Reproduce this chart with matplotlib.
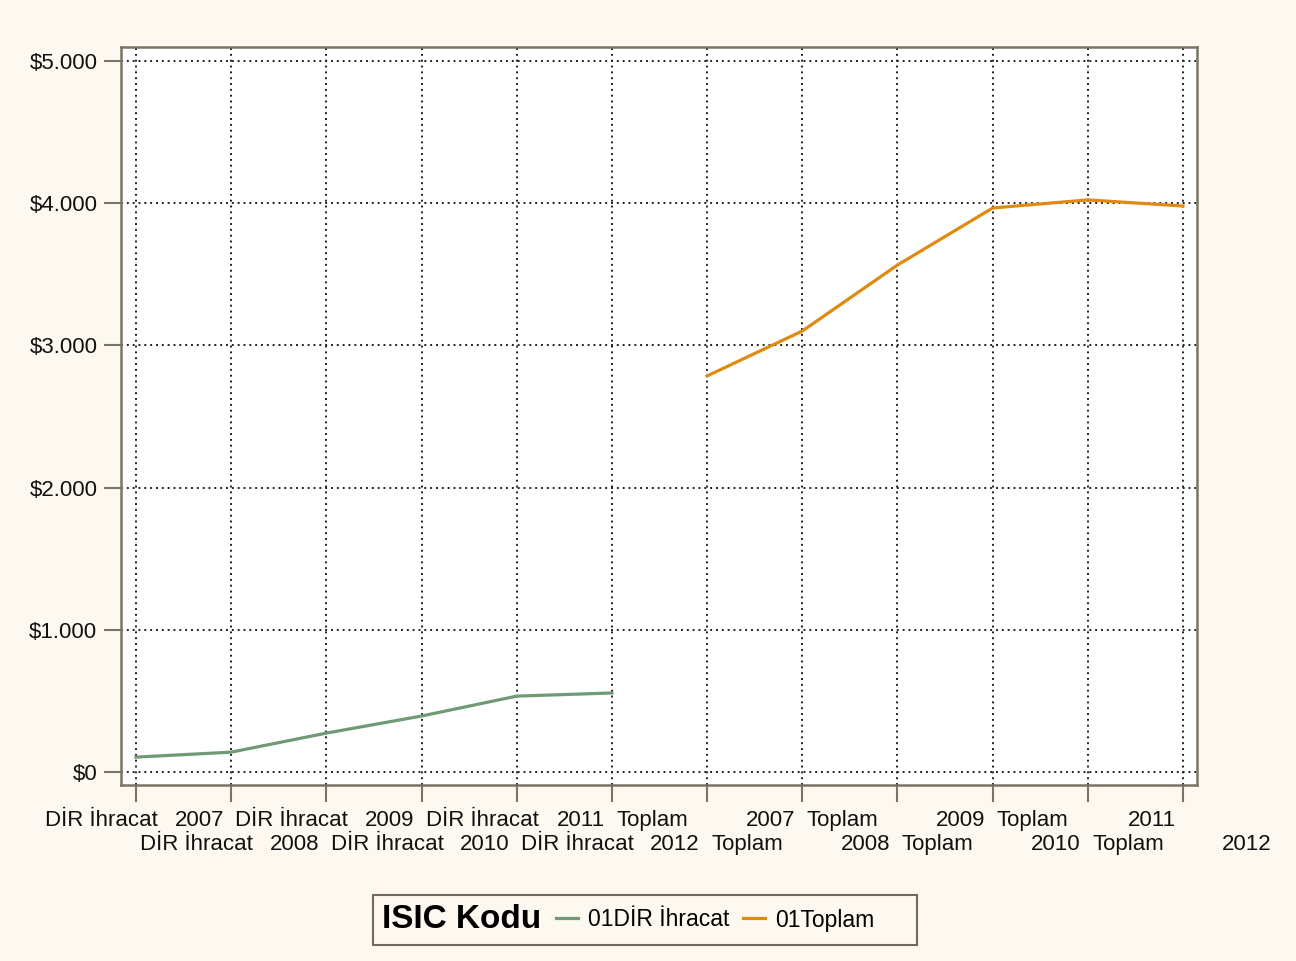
import matplotlib
matplotlib.use("Agg")
import matplotlib.pyplot as plt
from matplotlib.lines import Line2D
from matplotlib.offsetbox import HPacker, DrawingArea
from matplotlib.ticker import FuncFormatter

# ---- data ----
years = [2007, 2008, 2009, 2010, 2011, 2012]
series_names = ["DİR İhracat", "Toplam"]
legend_labels = ["01DİR İhracat", "01Toplam"]
dir_ihracat = [105, 140, 274, 394, 534, 556]
toplam = [2785, 3101, 3565, 3966, 4023, 3980]
y_ticks = [0, 1000, 2000, 3000, 4000, 5000]
colors = ["#6f9a74", "#e08a12"]

plt.rcParams['font.family'] = ['Liberation Sans', 'DejaVu Sans']

bg = "#fdf9f1"
spine_c = "#7a7464"
fig = plt.figure(figsize=(12.96, 9.61), dpi=100, facecolor=bg)
ax = fig.add_axes([121/1296, 1-785/961, (1197-121)/1296, (785-47)/961])
ax.set_facecolor("white")

categories = [(n, y) for n in series_names for y in years]
x_all = list(range(len(categories)))
n = len(years)
ax.plot(x_all[:n], dir_ihracat, color=colors[0], lw=2.3, solid_joinstyle='round', zorder=3)
ax.plot(x_all[n:], toplam, color=colors[1], lw=2.3, solid_joinstyle='round', zorder=3)

ax.set_xlim(-0.158, len(categories) - 1 + 0.147)
ax.set_ylim(-91, 5098)
ax.set_xticks(x_all)
ax.set_xticklabels([""] * len(x_all))
ax.set_yticks(y_ticks)
ax.yaxis.set_major_formatter(FuncFormatter(lambda v, p: "$" + f"{v:,.0f}".replace(",", ".")))

ax.grid(True, color="#222222", linestyle=(0, (1, 2)), linewidth=1.4, zorder=1)
for s in ax.spines.values():
    s.set_color(spine_c)
    s.set_linewidth(1.8)
ax.tick_params(axis='both', direction='out', length=12, width=1.5, color=spine_c,
               labelsize=16, labelcolor="#111111", pad=5)

# two-row, justified category labels
for i, (name, yr) in enumerate(categories):
    dy = -25 if i % 2 == 0 else -49
    ax.annotate(name, xy=(i, 0), xycoords=ax.get_xaxis_transform(),
                xytext=(-91, dy), textcoords='offset pixels', ha='left', va='top',
                fontsize=16, color="#111111")
    ax.annotate(str(yr), xy=(i, 0), xycoords=ax.get_xaxis_transform(),
                xytext=(88, dy), textcoords='offset pixels', ha='right', va='top',
                fontsize=16, color="#111111")

handles = [Line2D([], [], color=c, lw=2.3) for c in colors]
leg = fig.legend(handles, legend_labels, title="ISIC Kodu", ncol=2,
                 loc='center', bbox_to_anchor=(645/1296, 1-920/961),
                 fontsize=16.5, title_fontproperties={'weight': 'bold', 'size': 24},
                 frameon=True, fancybox=False, facecolor=bg, edgecolor="#6e6a5e",
                 handlelength=0.96, handletextpad=0.44, columnspacing=0.6,
                 borderpad=0.4)
leg.get_frame().set_linewidth(1.5)
leg.get_frame().set_alpha(None)
try:
    fs = leg._fontsize
    spacer = DrawingArea(14, 1)
    newbox = HPacker(pad=leg.borderpad * fs, sep=10, align='center',
                     children=[leg._legend_title_box, leg._legend_handle_box, spacer])
    newbox.set_figure(fig)
    leg._legend_box = newbox
    newbox.set_offset(leg._findoffset)
except Exception:
    pass

fig.savefig("out.png", dpi=100, facecolor=bg)
